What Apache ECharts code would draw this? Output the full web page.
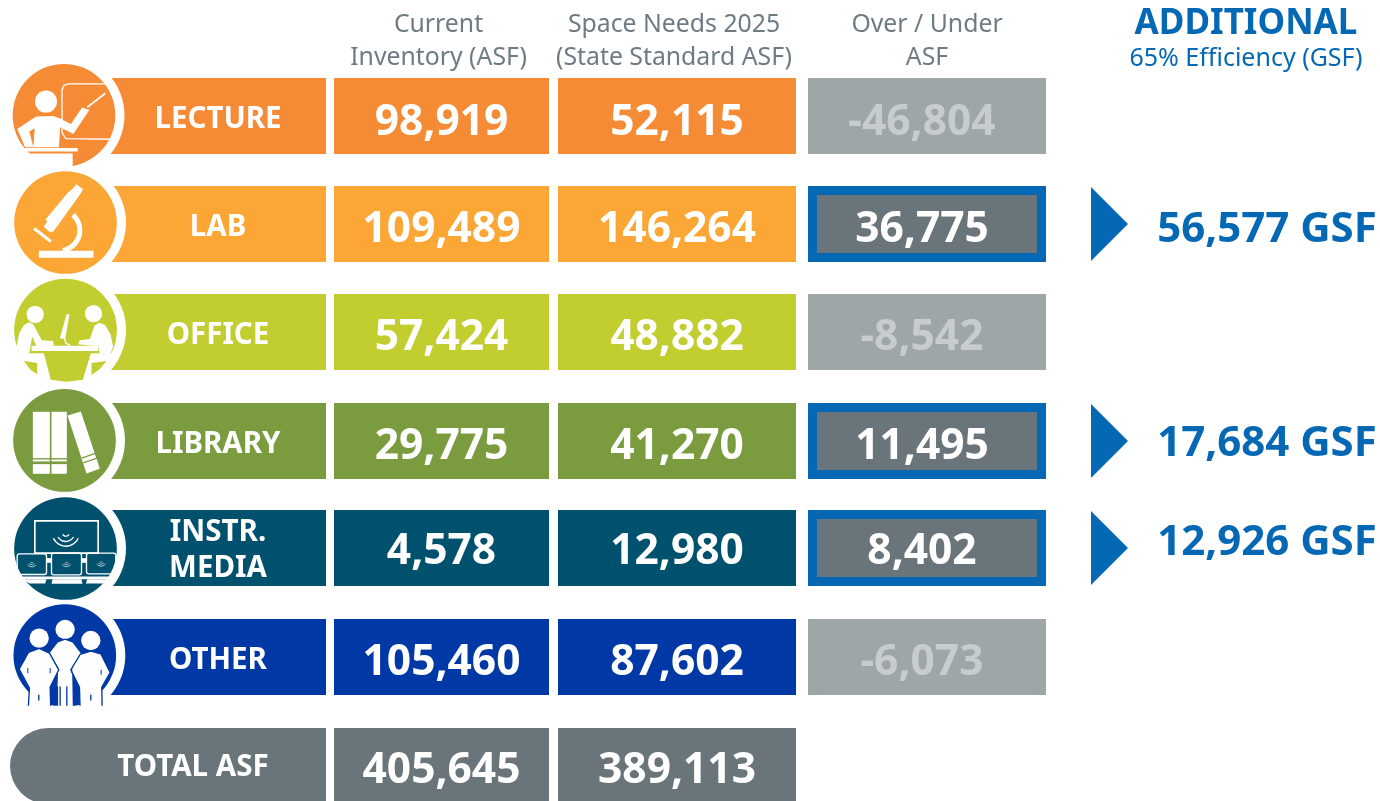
<!DOCTYPE html>
<html>
<head>
<meta charset="utf-8">
<title>Space needs</title>
<style>
  html, body { margin: 0; padding: 0; background: #ffffff; overflow: hidden; }
  #main { width: 1380px; height: 801px; }
</style>
<script src="https://cdn.jsdelivr.net/npm/echarts@6/dist/echarts.min.js"></script>
</head>
<body>
<div id="main"></div>
<script>
// data
var categories = ["LECTURE", "LAB", "OFFICE", "LIBRARY", "INSTR.\nMEDIA", "OTHER", "TOTAL ASF"];
var currentInventory = [98919, 109489, 57424, 29775, 4578, 105460, 405645];
var spaceNeeds = [52115, 146264, 48882, 41270, 12980, 87602, 389113];
var overUnder = [-46804, 36775, -8542, 11495, 8402, -6073, null];
var additionalGsf = [null, 56577, null, 17684, 12926, null, null];
var columnTitles = ["Current\nInventory (ASF)", "Space Needs 2025\n(State Standard ASF)", "Over / Under\nASF"];

// look and layout
var FONT = '"Noto Sans", sans-serif';
var rowColors = ["#F68B36", "#FBA635", "#C2CD2F", "#7A9C3F", "#00516E", "#0039A6", "#6A757B"];
var GREY = "#6A757B";
var BLUE = "#0468B5";
var rowNudge = [-0.2, -0.5, -0.9, -0.3, -1.6, -1, -0.3];   // the rows are not evenly spaced in the picture
var textNudge = [7, 6, 6, 6, 4, 6, 5];                     // number text sits below the bar centre
var labelNudge = [4, 4, 4, 4, 3, 4, 2];
var gsfNudge = { 1: 6, 3: 3, 4: -5 };
var labelCol = [110, 326];
var valueCols = [[334, 549], [558, 796], [808, 1046]];
var BAR_H = 76;

function rowY(api, row) {
  return api.coord([0, row])[1] + rowNudge[row];
}

// small shape helpers, icons are drawn in 3x crop coordinates
function poly(points, fill) { return { type: "polygon", shape: { points: points }, style: { fill: fill } }; }
function line(points, w, color) { return { type: "polyline", shape: { points: points }, style: { stroke: color, lineWidth: w, fill: null } }; }
function dot(cx, cy, r, fill) { return { type: "circle", shape: { cx: cx, cy: cy, r: r }, style: { fill: fill } }; }
function box(x, y, w, h, fill) { return { type: "rect", shape: { x: x, y: y, width: w, height: h }, style: { fill: fill } }; }
function frame(x, y, w, h, r, lw) {
  return { type: "rect", shape: { x: x, y: y, width: w, height: h, r: r }, style: { stroke: "#fff", lineWidth: lw, fill: null } };
}
function arc(cx, cy, r, a0, a1, lw) {
  return { type: "arc", shape: { cx: cx, cy: cy, r: r, startAngle: a0 * Math.PI / 180, endAngle: a1 * Math.PI / 180, clockwise: true },
    style: { stroke: "#fff", lineWidth: lw, fill: null } };
}

var W = "#fff";

function lectureIcon(c) {
  return [
    line([[190, 225], [186, 215], [186, 90], [192, 76], [205, 72], [322, 72]], 4, W),
    line([[190, 225], [198, 236], [335, 238]], 4, W),
    dot(138, 125, 33, W),
    poly([[52, 207], [108, 170], [160, 168], [180, 176], [213, 192], [246, 143], [268, 150], [220, 222], [180, 202], [177, 262], [100, 262], [104, 205], [88, 215], [100, 262], [75, 262]], W),
    line([[262, 142], [316, 100]], 5, W),
    box(75, 264, 158, 11, W),
    box(60, 281, 158, 60, W)
  ];
}

function labIcon(c) {
  return [
    box(117, 572, 164, 21, W),
    line([[103, 505], [153, 544]], 9, W),
    arc(178, 510, 62, -48, 80, 15),
    poly([[230, 372], [250, 388], [240, 404], [178, 490], [160, 515], [148, 515], [132, 500], [142, 484], [137, 478], [205, 396], [216, 388]], W)
  ];
}

function officeIcon(c) {
  return [
    poly([[38, 235], [352, 235], [330, 285], [280, 330], [100, 330], [38, 235]], W),
    poly([[130, 228], [275, 228], [249, 314], [200, 320], [153, 314]], c),
    poly([[72, 258], [112, 264], [112, 298], [92, 284]], c),
    poly([[275, 264], [320, 258], [300, 282], [275, 300]], c),
    box(95, 212, 200, 16, W),
    dot(106, 118, 26, W),
    dot(281, 116, 26, W),
    poly([[50, 215], [58, 175], [72, 150], [88, 142], [100, 148], [126, 196], [160, 198], [162, 212], [110, 214], [97, 185], [88, 236], [60, 236]], W),
    poly([[340, 215], [332, 178], [316, 150], [298, 143], [284, 152], [270, 192], [240, 196], [235, 208], [280, 212], [295, 212], [300, 236], [332, 236]], W),
    poly([[200, 118], [209, 118], [196, 192], [180, 190]], W),
    line([[194, 190], [198, 204], [212, 212]], 4, W)
  ];
}

function libraryIcon(c) {
  return [
    box(99, 411, 51, 139, W), box(99, 554, 51, 6, W), box(99, 568, 51, 29, W),
    box(155, 411, 46, 139, W), box(155, 554, 46, 6, W), box(155, 568, 46, 29, W),
    poly([[203, 422], [243, 410], [300, 582], [260, 596]], W),
    line([[246, 550], [286, 536]], 4, c),
    line([[250, 564], [291, 550]], 4, c)
  ];
}

function seat(x, y, w, h) {
  var cx = x + w / 2, cy = y + h / 2 + 2;
  return [
    frame(x, y, w, h, 7, 4),
    arc(cx, cy - 10, 16, 35, 145, 2), arc(cx, cy - 10, 10, 35, 145, 2), arc(cx, cy - 10, 4, 35, 145, 2)
  ];
}

function mediaIcon(c) {
  return [
    frame(105, 93, 190, 97, 0, 5),
    arc(198, 128, 41, 25, 155, 4), arc(198, 128, 27, 30, 150, 4), arc(198, 128, 11, 30, 150, 4),
    box(140, 205, 16, 14, W), box(245, 205, 16, 14, W)
  ].concat(seat(52, 192, 88, 62), seat(155, 190, 90, 65), seat(260, 190, 88, 62), [
    box(60, 260, 280, 8, W),
    poly([[66, 268], [140, 268], [136, 281], [90, 281]], W),
    poly([[158, 268], [245, 268], [248, 282], [155, 282]], W),
    poly([[262, 268], [330, 268], [312, 281], [258, 281]], W)
  ]);
}

function otherIcon(c) {
  var edge = function (pts) {
    return { type: "polygon", shape: { points: pts }, style: { fill: W, stroke: c, lineWidth: 4 } };
  };
  return [
    dot(117, 445, 29, W), dot(195, 419, 29, W), dot(272, 452, 29, W),
    edge([[146, 490], [172, 456], [195, 448], [218, 456], [244, 490], [218, 535], [220, 655], [168, 655], [172, 535]]),
    edge([[57, 538], [85, 488], [117, 476], [148, 490], [176, 540], [150, 592], [152, 660], [84, 660], [88, 595]]),
    edge([[212, 540], [240, 494], [272, 484], [302, 492], [330, 548], [305, 592], [306, 660], [240, 660], [238, 592]]),
    line([[83, 535], [83, 550]], 3, c), line([[150, 535], [150, 550]], 3, c),
    line([[116, 615], [116, 632]], 4, c), line([[272, 615], [272, 632]], 4, c),
    line([[215, 535], [215, 550]], 3, c), line([[303, 540], [303, 555]], 3, c),
    line([[172, 590], [172, 650]], 4, c), line([[190, 590], [190, 650]], 6, W),
    line([[180, 590], [180, 650]], 4, c), line([[200, 590], [200, 650]], 4, c),
    box(50, 648, 290, 30, W)
  ];
}

// where each round icon sits: centre, offset from row centre, centre in crop coords
var icons = [
  { draw: lectureIcon, cx: 64, dy: -0.7, zx: 192, zy: 166 },
  { draw: labIcon, cx: 65.5, dy: -1.5, zx: 197, zy: 487 },
  { draw: officeIcon, cx: 65.5, dy: -2, zx: 197, zy: 165 },
  { draw: libraryIcon, cx: 64.5, dy: -0.5, zx: 194, zy: 497 },
  { draw: mediaIcon, cx: 65.5, dy: 0.5, zx: 197, zy: 176 },
  { draw: otherIcon, cx: 64.8, dy: -1.5, zx: 194, zy: 497 }
];

function fmt(v) {
  return v.toLocaleString("en-US");
}

function numText(x, y, v, fill, size) {
  return {
    type: "text", x: x, y: y,
    style: { text: v, fill: fill, font: "700 " + size + "px " + FONT, align: "center", verticalAlign: "middle", textAlign: "center", textVerticalAlign: "middle" }
  };
}

// label bar of each row with the white disc that bites into it
function renderLabel(params, api) {
  var row = api.value(1);
  var y = rowY(api, row);
  var kids = [];
  var name = categories[row];
  var textX = 218;
  if (row === categories.length - 1) {
    textX = 193;
    kids.push({ type: "rect", shape: { x: 10, y: y - BAR_H / 2, width: labelCol[1] - 10, height: BAR_H, r: [38, 0, 0, 38] }, style: { fill: rowColors[row] } });
  } else {
    kids.push(box(labelCol[0], y - BAR_H / 2, labelCol[1] - labelCol[0], BAR_H, rowColors[row]));
    kids.push(dot(icons[row].cx, y + icons[row].dy, 60.5, "#fff"));
  }
  kids.push({ type: "text", x: textX, y: y + labelNudge[row], style: { text: name, fill: "#fff", font: "700 29.5px " + FONT, lineHeight: 36, align: "center", verticalAlign: "middle", textAlign: "center", textVerticalAlign: "middle" } });
  return { type: "group", children: kids };
}

function renderIcon(params, api) {
  var row = api.value(1);
  var ic = icons[row];
  if (!ic) return null;
  var y = rowY(api, row) + ic.dy;
  var c = rowColors[row];
  return {
    type: "group", x: ic.cx - ic.zx / 3, y: y - ic.zy / 3, scaleX: 1 / 3, scaleY: 1 / 3,
    children: [dot(ic.zx, ic.zy, 154, c)].concat(ic.draw(c))
  };
}

function renderValue(col) {
  return function (params, api) {
    var row = api.value(1);
    var y = rowY(api, row);
    var x0 = valueCols[col][0], x1 = valueCols[col][1];
    return {
      type: "group",
      children: [
        box(x0, y - BAR_H / 2, x1 - x0, BAR_H, rowColors[row]),
        numText((x0 + x1) / 2, y + textNudge[row], fmt(api.value(0)), "#fff", 42.5)
      ]
    };
  };
}

function renderOverUnder(params, api) {
  var row = api.value(1);
  var v = api.value(0);
  var y = rowY(api, row);
  var x0 = valueCols[2][0], x1 = valueCols[2][1];
  if (v < 0) {
    return {
      type: "group",
      children: [
        box(x0, y - BAR_H / 2, x1 - x0, BAR_H, "#9FA6A8"),
        numText((x0 + x1) / 2 - 5, y + textNudge[row], fmt(v), "#C7CCD0", 42.5)
      ]
    };
  }
  return {
    type: "group",
    children: [
      box(x0, y - BAR_H / 2, x1 - x0, BAR_H, BLUE),
      box(x0 + 9, y - BAR_H / 2 + 9, x1 - x0 - 18, BAR_H - 18, GREY),
      numText((x0 + x1) / 2 - 5, y + textNudge[row], fmt(v), "#fff", 42.5)
    ]
  };
}

function renderAdditional(params, api) {
  var row = api.value(1);
  var y = rowY(api, row);
  return {
    type: "group",
    children: [
      poly([[1091, y - 37], [1128, y], [1091, y + 37]], BLUE),
      numText(1267, y + gsfNudge[row], fmt(api.value(0)) + " GSF", BLUE, 42)
    ]
  };
}

function renderHeader(params, api) {
  var col = api.value(0);
  var cx = (valueCols[col][0] + valueCols[col][1]) / 2;
  return {
    type: "text", x: cx - (col === 2 ? 0 : 3), y: 41,
    style: { text: columnTitles[col], fill: "#6E7B83", font: "400 24.8px " + FONT, lineHeight: 33, align: "center", verticalAlign: "middle", textAlign: "center", textVerticalAlign: "middle" }
  };
}

function pairs(values) {
  var out = [];
  values.forEach(function (v, i) {
    if (v !== null) out.push([v, i]);
  });
  return out;
}

var myChart = echarts.init(document.getElementById("main"));

var option = {
  animation: false,
  backgroundColor: "#ffffff",
  grid: { left: 0, right: 0, top: 62, bottom: 0 },
  xAxis: { type: "value", min: 0, max: 1380, show: false },
  // rows are 108.3px apart, total row runs off the bottom of the page
  yAxis: { type: "value", min: -0.5, max: 6.32, inverse: true, show: false },
  graphic: [
    { type: "text", x: 1246, y: 24, style: { text: "ADDITIONAL", fill: BLUE, font: "700 35px " + FONT, align: "center", verticalAlign: "middle", textAlign: "center", textVerticalAlign: "middle" } },
    { type: "text", x: 1246, y: 59, style: { text: "65% Efficiency (GSF)", fill: BLUE, font: "400 25px " + FONT, align: "center", verticalAlign: "middle", textAlign: "center", textVerticalAlign: "middle" } }
  ],
  series: [
    { type: "custom", name: "Headers", data: columnTitles.map(function (t, i) { return [i]; }), renderItem: renderHeader, silent: true },
    { type: "custom", name: "Labels", data: categories.map(function (t, i) { return [0, i]; }), renderItem: renderLabel, silent: true },
    { type: "custom", name: "Icons", data: categories.map(function (t, i) { return [0, i]; }), renderItem: renderIcon, silent: true },
    { type: "custom", name: "Current Inventory", data: pairs(currentInventory), renderItem: renderValue(0), silent: true },
    { type: "custom", name: "Space Needs 2025", data: pairs(spaceNeeds), renderItem: renderValue(1), silent: true },
    { type: "custom", name: "Over / Under", data: pairs(overUnder), renderItem: renderOverUnder, silent: true },
    { type: "custom", name: "Additional", data: pairs(additionalGsf), renderItem: renderAdditional, silent: true }
  ]
};

myChart.setOption(option);
</script>
</body>
</html>
